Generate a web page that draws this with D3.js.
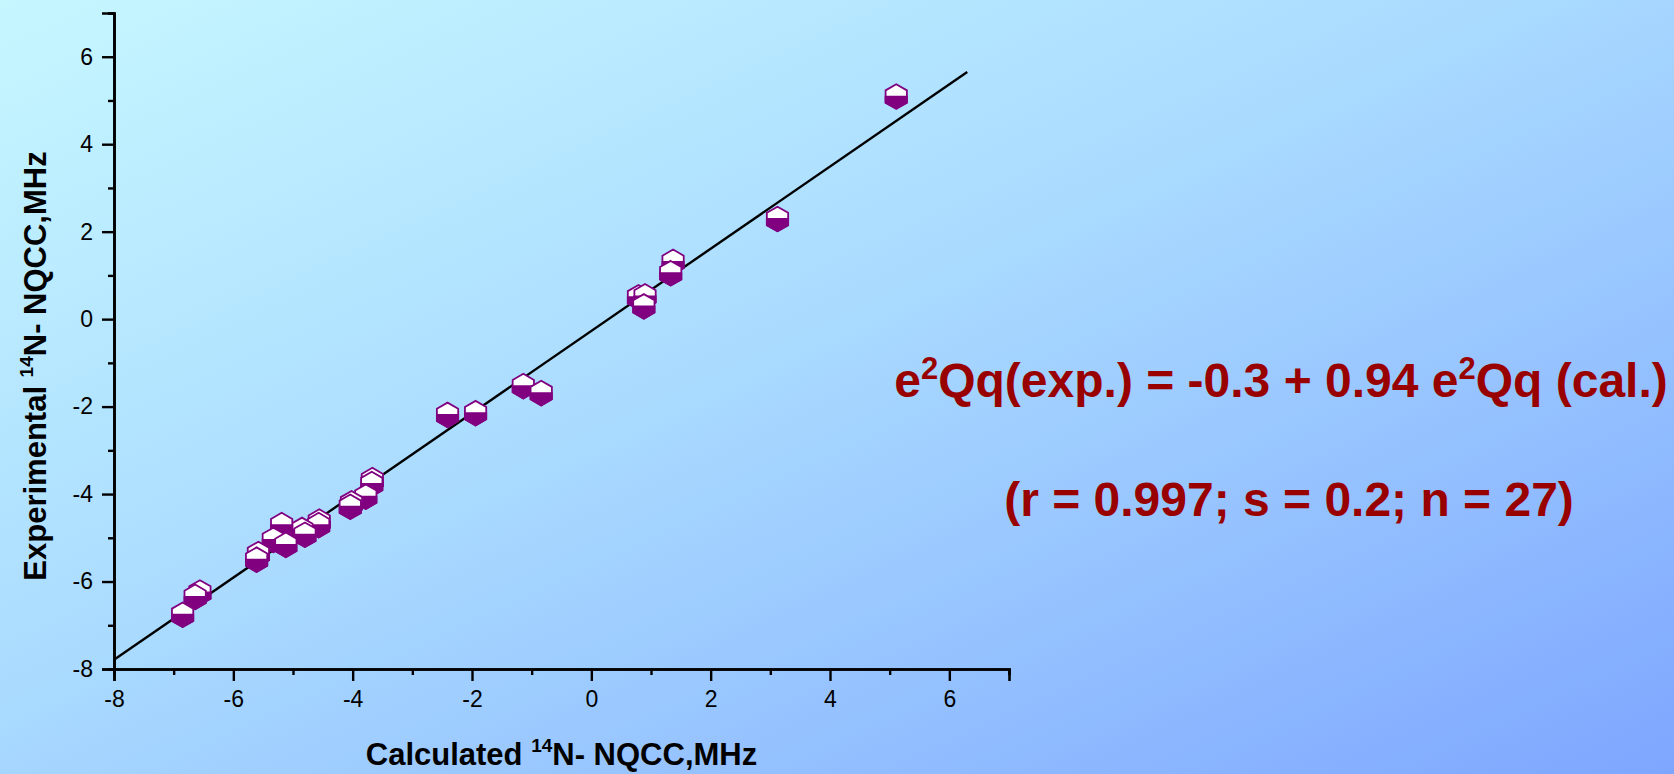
<!DOCTYPE html>
<html>
<head>
<meta charset="utf-8">
<script src="https://cdn.jsdelivr.net/npm/d3@7"></script>
<style>
  html, body { margin: 0; padding: 0; overflow: hidden; }
  svg { display: block; }
  text { font-family: "Liberation Sans", Arial, sans-serif; }
</style>
</head>
<body>
<svg id="chart" width="1674" height="774"></svg>
<script>
// ---- data ----
const calculated = [5.11, 3.12, 1.37, 1.33, 0.79, 0.90, 0.88, -1.14, -0.84, -2.41, -1.94,
  -3.67, -3.68, -3.78, -4.02, -4.04, -4.56, -4.57, -4.85, -4.80, -5.19, -5.33, -5.12,
  -5.58, -5.61, -6.56, -6.64, -6.85];
const experimental = [5.09, 2.29, 1.31, 1.05, 0.50, 0.52, 0.29, -1.53, -1.69, -2.19, -2.15,
  -3.68, -3.77, -4.06, -4.21, -4.29, -4.63, -4.71, -4.82, -4.93, -4.71, -5.05, -5.16,
  -5.37, -5.50, -6.25, -6.35, -6.76];
const fitIntercept = -0.27;
const fitSlope = 0.94;
const fitRange = [-8, 6.3];
const xDomain = [-8, 7];
const yDomain = [-8, 7];
const majorTicks = [-8, -6, -4, -2, 0, 2, 4, 6];
const minorTicks = [-7, -5, -3, -1, 1, 3, 5, 7];
const equationLine1 = ["e", "2", "Qq(exp.) = -0.3 + 0.94 e", "2", "Qq (cal.)"];
const equationLine2 = "(r = 0.997; s = 0.2; n = 27)";

(function () {
// ---- layout ----
const svg = d3.select("#chart");
const W = 1674, H = 774;
const pLeft = 114, pRight = 1009, pTop = 13, pBottom = 669;

const defs = svg.append("defs");
const grad = defs.append("linearGradient").attr("id", "bg")
  .attr("x1", 0).attr("y1", 0).attr("x2", 1).attr("y2", 1);
grad.append("stop").attr("offset", "0%").attr("stop-color", "#c6f7ff");
grad.append("stop").attr("offset", "45%").attr("stop-color", "#aadbff");
grad.append("stop").attr("offset", "100%").attr("stop-color", "#7ea6ff");
svg.append("rect").attr("width", W).attr("height", H).attr("fill", "url(#bg)");

const x = d3.scaleLinear().domain(xDomain).range([pLeft, pRight]);
const y = d3.scaleLinear().domain(yDomain).range([pBottom, pTop]);

const fmt = d => String(d);
const xAxisMajor = d3.axisBottom(x).tickValues(majorTicks).tickSize(12).tickPadding(10).tickFormat(fmt);
const xAxisMinor = d3.axisBottom(x).tickValues(minorTicks).tickSize(6).tickFormat("");
const yAxisMajor = d3.axisLeft(y).tickValues(majorTicks).tickSize(12).tickPadding(9).tickFormat(fmt);
const yAxisMinor = d3.axisLeft(y).tickValues(minorTicks).tickSize(6).tickFormat("");

function styleAxis(g) {
  g.select(".domain").attr("stroke", "#000").attr("stroke-width", 2.6);
  g.selectAll(".tick line").attr("stroke", "#000").attr("stroke-width", 2.4);
  g.selectAll(".tick text").attr("fill", "#000").attr("font-size", 23)
    .attr("font-family", "Liberation Sans, Arial, sans-serif");
}
const gxm = svg.append("g").attr("transform", `translate(0,${pBottom})`).call(xAxisMinor);
const gx = svg.append("g").attr("transform", `translate(0,${pBottom})`).call(xAxisMajor);
const gym = svg.append("g").attr("transform", `translate(${pLeft},0)`).call(yAxisMinor);
const gy = svg.append("g").attr("transform", `translate(${pLeft},0)`).call(yAxisMajor);
[gxm, gx, gym, gy].forEach(styleAxis);

// axis titles
const xt = svg.append("text").attr("x", (pLeft + pRight) / 2).attr("y", 765)
  .attr("text-anchor", "middle").attr("font-weight", "bold").attr("font-size", 31).attr("fill", "#000");
xt.append("tspan").text("Calculated ");
xt.append("tspan").attr("font-size", 19).attr("dy", -13).text("14");
xt.append("tspan").attr("dy", 13).text("N- NQCC,MHz");

const yt = svg.append("text").attr("transform", `translate(46,366) rotate(-90)`)
  .attr("text-anchor", "middle").attr("font-weight", "bold").attr("font-size", 31).attr("fill", "#000");
yt.append("tspan").text("Experimental ");
yt.append("tspan").attr("font-size", 19).attr("dy", -13).text("14");
yt.append("tspan").attr("dy", 13).text("N- NQCC,MHz");

// fit line
const line = d3.line().x(d => x(d)).y(d => y(fitIntercept + fitSlope * d));
svg.append("path").datum(fitRange).attr("d", line)
  .attr("fill", "none").attr("stroke", "#000").attr("stroke-width", 2.4);

// markers: pointy-top hexagon, top half white, bottom half purple
const R = 12.3;
const c30 = Math.cos(Math.PI / 6);
const hexPts = [[0, -R], [R * c30, -R / 2], [R * c30, R / 2], [0, R], [-R * c30, R / 2], [-R * c30, -R / 2]];
const hexPath = "M" + hexPts.map(p => p.join(",")).join("L") + "Z";
const halfPts = [[-R * c30, 0], [R * c30, 0], [R * c30, R / 2], [0, R], [-R * c30, R / 2]];
const halfPath = "M" + halfPts.map(p => p.join(",")).join("L") + "Z";
const pts = calculated.map((c, i) => ({ c, e: experimental[i] }));
const mk = svg.append("g").selectAll("g").data(pts).join("g")
  .attr("transform", d => `translate(${x(d.c)},${y(d.e)})`);
mk.append("path").attr("d", hexPath).attr("fill", "#fff").attr("stroke", "#800080").attr("stroke-width", 1.8);
mk.append("path").attr("d", halfPath).attr("fill", "#800080").attr("stroke", "#800080").attr("stroke-width", 1.8);

// equation text
const eq = svg.append("text").attr("x", 1281).attr("y", 397).attr("text-anchor", "middle")
  .attr("font-weight", "bold").attr("font-size", 48).attr("fill", "#990000");
eq.append("tspan").text(equationLine1[0]);
eq.append("tspan").attr("font-size", 31).attr("dy", -18).text(equationLine1[1]);
eq.append("tspan").attr("dy", 18).text(equationLine1[2]);
eq.append("tspan").attr("font-size", 31).attr("dy", -18).text(equationLine1[3]);
eq.append("tspan").attr("dy", 18).text(equationLine1[4]);
svg.append("text").attr("x", 1289).attr("y", 516).attr("text-anchor", "middle")
  .attr("font-weight", "bold").attr("font-size", 48).attr("fill", "#990000").text(equationLine2);
})();
</script>
</body>
</html>
